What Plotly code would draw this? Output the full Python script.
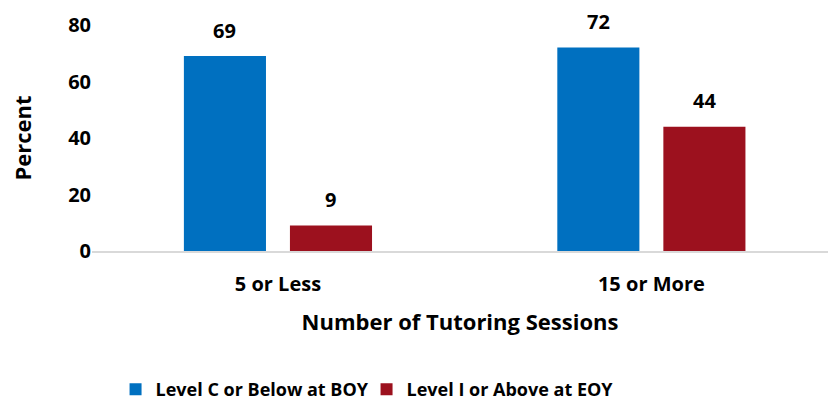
import plotly.graph_objects as go

categories = ["5 or Less", "15 or More"]
series_names = ["Level C or Below at BOY", "Level I or Above at EOY"]
level_c_below_boy = [69, 72]
level_i_above_eoy = [9, 44]
y_ticks = [0, 20, 40, 60, 80]

colors = ["#0070C0", "#9C111E"]
FONT = "'Open Sans', Lato, sans-serif"

fig = go.Figure()
for name, vals, col in zip(series_names, [level_c_below_boy, level_i_above_eoy], colors):
    fig.add_trace(go.Bar(
        x=categories, y=vals, name=name,
        marker=dict(color=col, line=dict(width=0)),
        offsetgroup=name,
        cliponaxis=False,
    ))

# data labels placed above each bar through the axes
offsets = [-0.1419, 0.1419]
for off, vals in zip(offsets, [level_c_below_boy, level_i_above_eoy]):
    for i, v in enumerate(vals):
        fig.add_annotation(x=i + off, y=v, text=str(v), showarrow=False,
                           yanchor="middle", yshift=26, xref="x", yref="y",
                           font=dict(family=FONT, size=20, color="black", weight="bold"))

fig.update_layout(
    width=828, height=404,
    margin=dict(l=92, r=0, t=25, b=153, autoexpand=False),
    paper_bgcolor="white", plot_bgcolor="white",
    barmode="group", bargap=0.432, bargroupgap=0.226,
    font=dict(family=FONT, size=20, color="black", weight="bold"),
    showlegend=True,
    legend=dict(orientation="h", x=0.032, xanchor="left", y=-0.613, yanchor="middle",
                font=dict(family=FONT, size=18, color="black", weight="bold"),
                itemwidth=30, entrywidth=206, entrywidthmode="pixels",
                tracegroupgap=0, traceorder="normal"),
    xaxis=dict(range=[-0.498, 1.473], showgrid=False, showline=True, linecolor="#D9D9D9",
               linewidth=2, ticks="", automargin=False, ticklabelstandoff=14,
               tickfont=dict(family=FONT, size=20, weight="bold"),
               title=dict(text="Number of Tutoring Sessions", standoff=19,
                          font=dict(family=FONT, size=22, weight="bold"))),
    yaxis=dict(range=[0, 80], tickvals=y_ticks, showgrid=False, showline=False, zeroline=False,
               ticks="", ticklen=0, automargin=False,
               tickfont=dict(family=FONT, size=20, weight="bold"),
               title=dict(text="Percent", standoff=30,
                          font=dict(family=FONT, size=22, weight="bold"))),
)

fig.write_html("out.html", config={"displayModeBar": False},
               post_script="document.body.style.margin='0';document.body.style.overflow='hidden';")
